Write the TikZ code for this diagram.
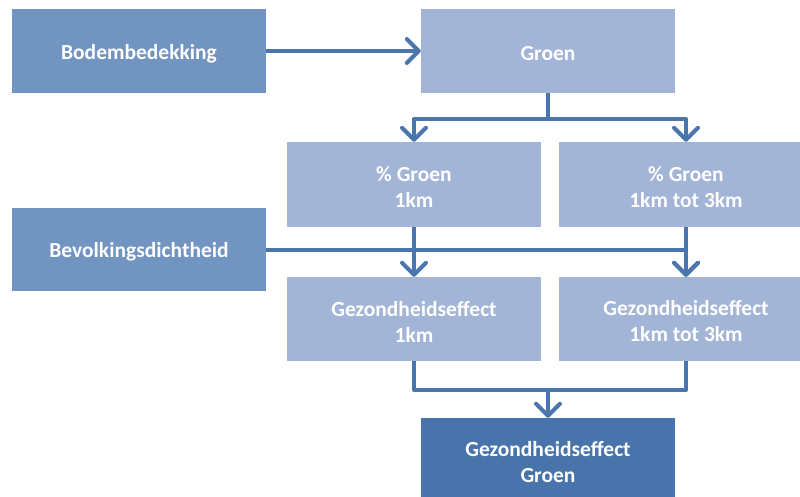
\documentclass[tikz,border=0pt]{standalone}
\usepackage{fontspec}
\setmainfont{Carlito}
\usetikzlibrary{arrows.meta}
\definecolor{boxlight}{HTML}{A2B5D6}
\definecolor{boxmid}{HTML}{7194C1}
\definecolor{boxdark}{HTML}{4874AB}
\definecolor{linkblue}{HTML}{4A75AD}
\begin{document}
\begin{tikzpicture}[x=1pt,y=-1pt,
  box/.style={rectangle, draw=none, minimum width=254pt, minimum height=84pt,
    inner sep=0pt},
  lightbox/.style={box, fill=boxlight},
  midbox/.style={box, fill=boxmid},
  darkbox/.style={box, fill=boxdark},
  boxtext/.style={inner sep=0pt, align=center, text=white, yshift=-2.5pt,
    font=\bfseries\fontsize{21.5}{26}\selectfont},
  link/.style={draw=linkblue, line width=4pt, line join=round},
  flow/.style={link, -{Straight Barb[length=12pt,width=24pt,round]}}]
\useasboundingbox (0,0) rectangle (800,497);

% boxes
\node[midbox]   (bod)   at (139,51)    {};
\node[lightbox] (groen) at (548,51)    {};
\node[lightbox, minimum height=85pt] (pg1) at (414,184.5) {};
\node[lightbox, minimum height=85pt] (pg2) at (686,184.5) {};
\node[midbox, minimum height=83pt]   (bev) at (139,249.5) {};
\node[lightbox] (ge1)   at (414,319)   {};
\node[lightbox] (ge2)   at (686,319)   {};
\node[darkbox]  (final) at (548,460)   {};

% box labels
\node[boxtext] (bodtext)   at (bod)   {Bodembedekking};
\node[boxtext] (groentext) at (groen) {Groen};
\node[boxtext] (pg1text)   at (pg1)   {\% Groen\\1km};
\node[boxtext] (pg2text)   at (pg2)   {\% Groen\\1km tot 3km};
\node[boxtext] (bevtext)   at (bev)   {Bevolkingsdichtheid};
\node[boxtext] (ge1text)   at (ge1)   {Gezondheidseffect\\1km};
\node[boxtext] (ge2text)   at (ge2)   {Gezondheidseffect\\1km tot 3km};
\node[boxtext] (finaltext) at (final) {Gezondheidseffect\\Groen};

% junction points
\coordinate (split) at (548,119);
\coordinate (merge) at (548,390);

% connectors
\draw[flow] (bod.east) -- (groen.west);
\draw[link] (groen.south) -- (split);
\draw[flow] (split) -| (pg1.north);
\draw[flow] (split) -| (pg2.north);
\draw[flow] (bev.east) -| (ge2.north);
\draw[flow] (pg1.south) -- (ge1.north);
\draw[flow] (pg2.south) -- (ge2.north);
\draw[link] (ge1.south) |- (merge) -| (ge2.south);
\draw[flow] (merge) -- (final.north);
\end{tikzpicture}
\end{document}
